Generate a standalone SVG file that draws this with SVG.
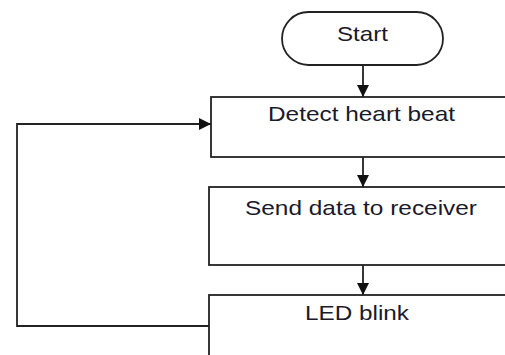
<svg xmlns="http://www.w3.org/2000/svg" width="505" height="355" viewBox="0 0 505 355">
<style>
.shape{fill:#ffffff;stroke:#222222;stroke-width:1.8}
.lbl{font-family:"Liberation Sans",Arial,sans-serif;font-size:21px;fill:#1a1a2a;text-anchor:middle}
.con{fill:none;stroke:#222222;stroke-width:1.8}
</style>
<defs>
<marker id="ah" markerWidth="12" markerHeight="12" refX="12" refY="6" orient="auto" markerUnits="userSpaceOnUse">
<path d="M0,0 L12,6 L0,12 Z" fill="#111111"/>
</marker>
</defs>
<rect width="505" height="355" fill="#ffffff"/>
<g id="start">
<rect class="shape" x="282" y="12" width="161" height="53" rx="26.5" ry="26.5"/>
<text class="lbl" x="362.5" y="41" textLength="51" lengthAdjust="spacingAndGlyphs">Start</text>
</g>
<g id="detect">
<rect class="shape" x="211" y="97" width="310" height="60"/>
<text class="lbl" x="361.5" y="121" textLength="187" lengthAdjust="spacingAndGlyphs">Detect heart beat</text>
</g>
<g id="send">
<rect class="shape" x="209" y="187" width="312" height="78"/>
<text class="lbl" x="361" y="215" textLength="232" lengthAdjust="spacingAndGlyphs">Send data to receiver</text>
</g>
<g id="led">
<rect class="shape" x="209" y="295" width="312" height="80"/>
<text class="lbl" x="357" y="320" textLength="104" lengthAdjust="spacingAndGlyphs">LED blink</text>
</g>
<g id="connectors">
<line class="con" x1="363" y1="65" x2="363" y2="97" marker-end="url(#ah)"/>
<line class="con" x1="363" y1="157" x2="363" y2="187" marker-end="url(#ah)"/>
<line class="con" x1="363" y1="265" x2="363" y2="295" marker-end="url(#ah)"/>
<polyline class="con" points="209,326 17,326 17,124 211,124" marker-end="url(#ah)"/>
</g>
</svg>
